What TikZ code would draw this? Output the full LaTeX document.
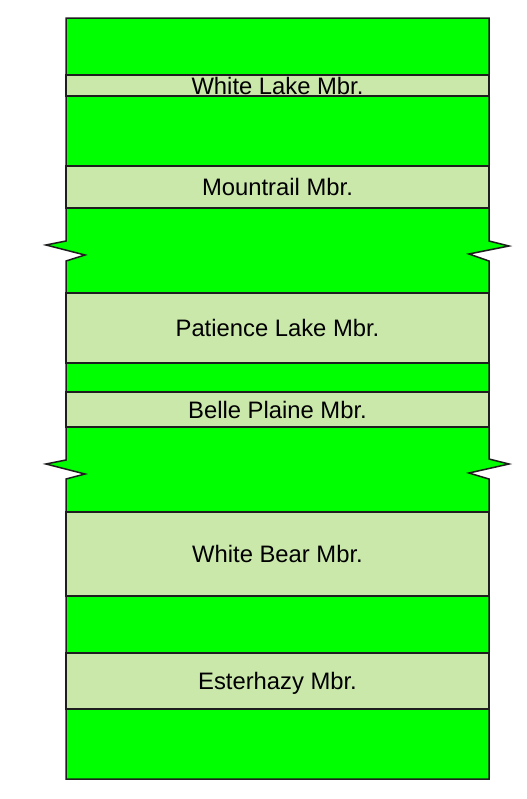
\documentclass[tikz,border=0pt]{standalone}
\usepackage{fontspec}
\setmainfont{Liberation Sans}
\usepackage{tikz}
\usetikzlibrary{positioning}
\definecolor{fmgreen}{RGB}{0,255,0}
\definecolor{mbrgreen}{RGB}{201,232,170}
\definecolor{edgegray}{RGB}{30,30,30}

\begin{document}
\begin{tikzpicture}[x=0.5pt,y=-0.5pt,line width=0.75pt,
      mbr/.style={draw=edgegray,fill=mbrgreen,minimum width=211.5pt,inner sep=0pt,
        text height=8.6pt,text depth=0pt,font=\fontsize{11.9}{13}\selectfont}]
      \useasboundingbox (0,0) rectangle (526,799);
      % formation column with the two breaks
      \draw[edgegray,fill=fmgreen,line join=miter]
        (66,18) -- (489,18) -- (489,241) -- (509,246) -- (469,254) -- (489,261)
        -- (489,459) -- (509,464) -- (469,473) -- (489,479) -- (489,779)
        -- (66,779) -- (66,479) -- (85,474) -- (46,464) -- (66,460)
        -- (66,261) -- (85,255) -- (46,245) -- (66,241) -- cycle;
      % members
      \node[mbr,minimum height=10.5pt] (whitelake) at (277.5,85.5) {White Lake Mbr.};
      \node[mbr,minimum height=21pt] (mountrail) at (277.5,187) {Mountrail Mbr.};
      \node[mbr,minimum height=35pt] (patience) at (277.5,328) {Patience Lake Mbr.};
      \node[mbr,minimum height=17.5pt] (belle) at (277.5,409.5) {Belle Plaine Mbr.};
      \node[mbr,minimum height=42pt] (whitebear) at (277.5,554) {White Bear Mbr.};
      \node[mbr,minimum height=28pt] (esterhazy) at (277.5,681) {Esterhazy Mbr.};
    \end{tikzpicture}
\end{document}
